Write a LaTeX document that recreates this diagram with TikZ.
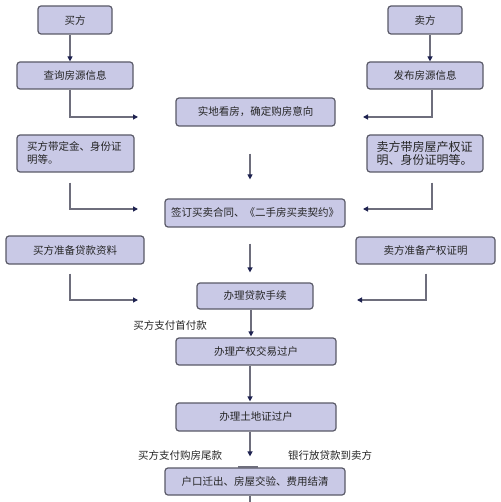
\documentclass[tikz,border=0pt]{standalone}
\usepackage{fontspec}
\newfontfamily\cjk{Noto Sans CJK SC}
\usetikzlibrary{arrows.meta}
\definecolor{boxfill}{HTML}{C9C9E6}
\definecolor{boxline}{HTML}{5A5A68}
\definecolor{connc}{HTML}{6E6E7C}
\definecolor{tipc}{HTML}{1E2250}
\begin{document}
\begin{tikzpicture}[x=1pt,y=-1pt,
 box/.style={draw=boxline, line width=1.2pt, fill=boxfill, rounded corners=3pt, inner sep=0pt,
   font=\cjk\fontsize{10.5}{13}\selectfont, text=black!85},
 conn/.style={draw=connc, line width=1.2pt, -{Triangle[length=5pt,width=5pt,color=tipc]}},
 plain/.style={draw=connc, line width=1.2pt},
 lbl/.style={font=\cjk\fontsize{10.5}{13}\selectfont, inner sep=0pt, text=black!85}]
\useasboundingbox (0,0) rectangle (500,502);
\fill[white] (0,0) rectangle (500,502);

% boxes
\node[box, minimum width=74pt, minimum height=28pt] (buyer) at (75,20) {买方};
\node[box, minimum width=74pt, minimum height=28pt] (seller) at (425,20) {卖方};
\node[box, minimum width=116pt, minimum height=27pt] (query) at (75,75.5) {查询房源信息};
\node[box, minimum width=116pt, minimum height=27pt] (publish) at (425,75.5) {发布房源信息};
\node[box, minimum width=159pt, minimum height=28pt] (view) at (255.5,112) {实地看房，确定购房意向};
\node[box, minimum width=117pt, minimum height=37pt, align=left, text width=97pt] (bdep) at (75.5,153.5) {买方带定金、身份证\\明等。};
\node[box, minimum width=116pt, minimum height=37pt, align=left, text width=97pt,
      font=\cjk\fontsize{12}{13}\selectfont] (sdep) at (425,153.5) {卖方带房屋产权证\\明、身份证明等。};
\node[box, minimum width=180pt, minimum height=28pt] (sign) at (255,213) {签订买卖合同、《二手房买卖契约》};
\node[box, minimum width=138pt, minimum height=28pt] (bloan) at (75,250) {买方准备贷款资料};
\node[box, minimum width=139pt, minimum height=27pt] (scert) at (425.5,250.5) {卖方准备产权证明};
\node[box, minimum width=116pt, minimum height=26pt] (loan) at (255,296) {办理贷款手续};
\node[box, minimum width=160pt, minimum height=27pt] (transfer) at (256,351.5) {办理产权交易过户};
\node[box, minimum width=160pt, minimum height=28pt] (land) at (256,417) {办理土地证过户};
\node[box, minimum width=180pt, minimum height=27pt] (final) at (255,481.5) {户口迁出、房屋交验、费用结清};

% labels
\node[lbl] (l1) at (170,325) {买方支付首付款};
\node[lbl] (l2) at (180,455) {买方支付购房尾款};
\node[lbl] (l3) at (330,455) {银行放贷款到卖方};

% free ends
\coordinate (a1) at (138,117);
\coordinate (a2) at (363,117);
\coordinate (a3) at (138,209);
\coordinate (a4) at (363,209);
\coordinate (a5) at (138,300);
\coordinate (a6) at (357,300);
\coordinate (endb) at (250,502);

% connectors
\draw[conn] ([xshift=-5pt]buyer.south) -- ([xshift=-5pt]query.north);
\draw[conn] ([xshift=5pt]seller.south) -- ([xshift=5pt]publish.north);
\draw[conn] ([xshift=-5pt]query.south) |- (a1);
\draw[conn] ([xshift=7pt]publish.south) |- (a2);
\draw[conn] ([xshift=-5.5pt,yshift=-10pt]bdep.south) |- (a3);
\draw[conn] ([xshift=7pt,yshift=-10pt]sdep.south) |- (a4);
\draw[conn, shorten <=27pt, shorten >=19pt] ([xshift=-5.5pt]view.south) -- ([xshift=-5pt]sign.north);
\draw[conn, shorten <=16pt, shorten >=10pt] ([xshift=-5pt]sign.south) -- ([xshift=-5pt]loan.north);
\draw[conn] ([xshift=-5pt,yshift=-9pt]bloan.south) |- (a5);
\draw[conn] ([xshift=0.5pt,yshift=-9pt]scert.south) |- (a6);
\draw[conn, shorten >=1pt] ([xshift=-4pt]loan.south) -- ([xshift=-5pt]transfer.north);
\draw[conn, shorten >=1pt] ([xshift=-6pt]transfer.south) -- ([xshift=-6pt]land.north);
\draw[conn, shorten >=11pt] ([xshift=-6pt]land.south) -- ([xshift=-5pt]final.north);
\draw[plain] ([xshift=-5pt]final.south) -- (endb);
\draw[connc, line width=2pt] (238,466.5) -- (258,466.5);
\end{tikzpicture}
\end{document}
